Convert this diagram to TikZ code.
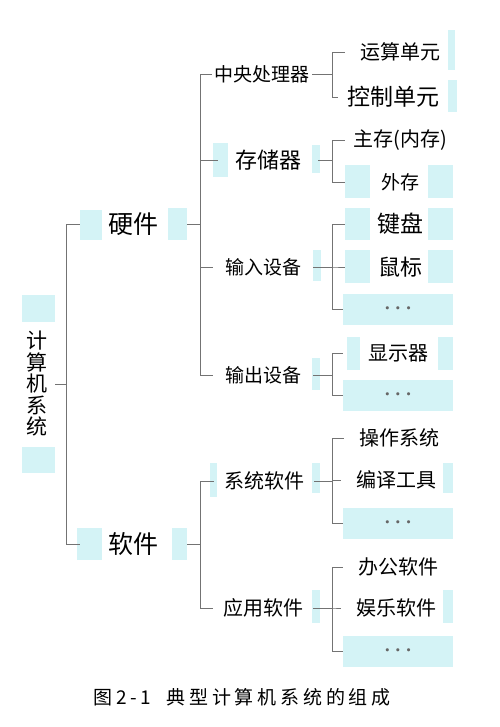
\documentclass[tikz,border=0pt]{standalone}
\usepackage{fontspec}
\setmainfont{Noto Sans CJK SC}
\newcommand{\pxfont}[1]{\fontsize{#1}{#1}\selectfont}
\definecolor{patchc}{RGB}{212,243,246}

\begin{document}
\begin{tikzpicture}[x=1pt, y=-1pt,
  ln/.style={draw=black!55, line width=0.8pt},
  patch/.style={fill=patchc},
  lvone/.style={inner sep=0pt, minimum width=107pt, minimum height=30pt, font=\pxfont{25}},
  lvtwo/.style={inner sep=0pt, minimum width=100pt, minimum height=24pt, font=\pxfont{19}},
  leaf/.style={inner sep=0pt, minimum width=110pt, minimum height=26pt, font=\pxfont{20}},
  more/.style={leaf, fill=patchc, minimum height=31pt, text=black!60, font=\pxfont{21}\boldmath}
]
\path[use as bounding box, fill=white] (0,0) rectangle (499,727);
% faint tinted patches of the scan
\foreach \xa/\ya/\xb/\yb in {22/295/55/322, 22/447/55/473, 80/210/102/240, 168/208/187/240, 77/528/102/560, 172/528/187/560, 213/143/228/177, 312/145/320/173, 313/250/321/281, 312/358/320/390, 210/463/217/497, 312/463/320/493, 312/590/320/623, 448/30/455/70, 448/80/457/112, 345/165/370/198, 428/165/453/198, 345/208/370/240, 428/208/453/240, 345/250/370/283, 428/250/453/283, 347/337/360/370, 438/337/453/370, 443/463/453/493, 443/590/453/623}
  \fill[patch] (\xa,\ya) rectangle (\xb,\yb);
\coordinate (bar2) at (332,0);
% root
\node[inner sep=0pt, minimum width=36pt, align=center, font={\fontsize{21}{21.5}\selectfont}] (comp) at (37,384) {计\\算\\机\\系\\统};
% first level
\node[lvone] (hw) at (133.5,224) {硬件};
\node[lvone] (sw) at (133.5,544) {软件};
% hardware parts
\node[lvtwo] (cpu) at (262,74) {中央处理器};
\node[lvtwo, font=\pxfont{22}] (mem) at (268,160) {存储器};
\node[lvtwo] (inp) at (263,267) {输入设备};
\node[lvtwo] (outp) at (263,375) {输出设备};
% software parts
\node[lvtwo, font=\pxfont{20}] (syssw) at (264,481) {系统软件};
\node[lvtwo, font=\pxfont{20}] (appsw) at (263,608) {应用软件};
% leaves
\node[leaf] (alu) at (400,52) {运算单元};
\node[leaf, font=\pxfont{23}] (cu) at (393,97) {控制单元};
\node[leaf] (ram) at (400,140) {主存(内存)};
\node[leaf, font=\pxfont{19}] (disk) at (400,182) {外存};
\node[leaf, font=\pxfont{23}] (kbd) at (400,224) {键盘};
\node[leaf, font=\pxfont{22}] (mouse) at (400,267) {鼠标};
\node[more] (inmore) at (398,309) {$\cdots$};
\node[leaf] (disp) at (398,353) {显示器};
\node[more] (outmore) at (398,395) {$\cdots$};
\node[leaf] (os) at (399,438) {操作系统};
\node[leaf] (cc) at (396,480) {编译工具};
\node[more] (sysmore) at (398,523) {$\cdots$};
\node[leaf] (office) at (398,567) {办公软件};
\node[leaf] (game) at (396,608) {娱乐软件};
\node[more] (appmore) at (398,651) {$\cdots$};
% caption
\node[font={\pxfont{19}\addfontfeature{LetterSpace=20}}] (cap) at (242,697) {图2-1\hspace{0.8em}典型计算机系统的组成};
% brackets
\foreach \c in {hw,sw} \draw[ln] (comp.east) -- ++(11,0) |- (\c.west);
\foreach \c in {cpu,mem,inp,outp} \draw[ln] (hw.east) -- ++(13,0) |- (\c.west);
\foreach \c in {syssw,appsw} \draw[ln] (sw.east) -- ++(13,0) |- (\c.west);
\foreach \p/\c in {cpu/alu,cpu/cu,mem/ram,mem/disk,inp/kbd,inp/mouse,inp/inmore,outp/disp,outp/outmore,syssw/os,syssw/cc,syssw/sysmore,appsw/office,appsw/game,appsw/appmore}
  \draw[ln] (\p.east) -- (\p.east -| bar2) |- (\c.west);
\end{tikzpicture}
\end{document}
